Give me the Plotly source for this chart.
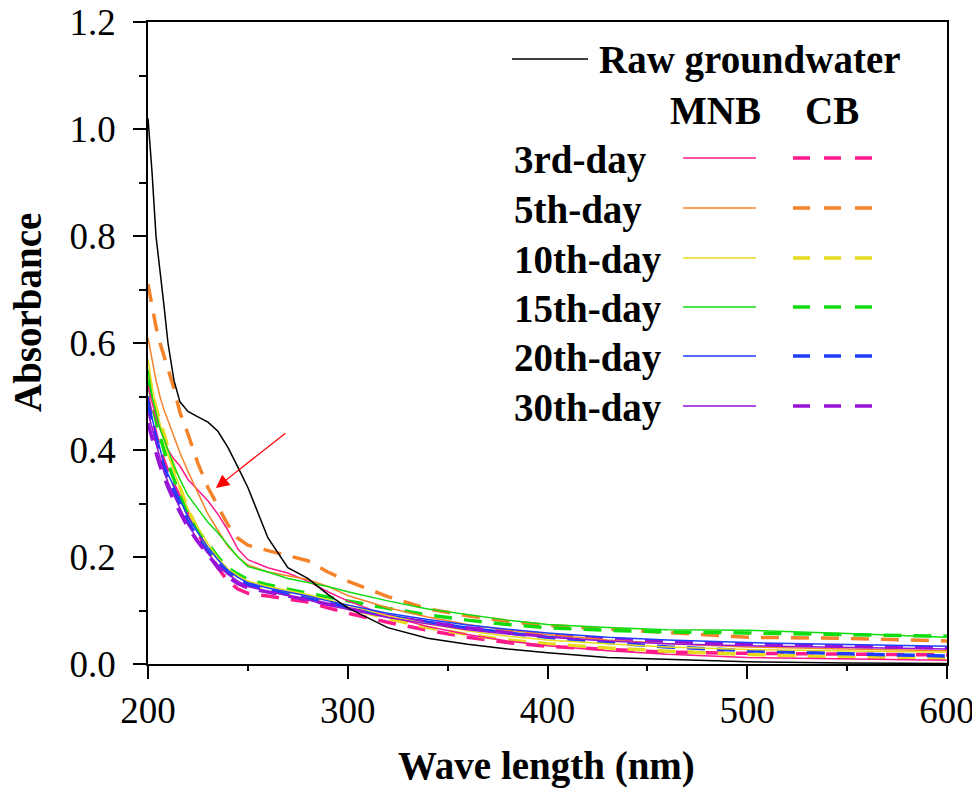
import plotly.graph_objects as go

# ---------------- data ----------------
wavelength = [200, 202, 204, 206, 208, 210, 213, 216, 220, 225, 230, 235, 240, 245, 250,
              260, 270, 280, 290, 300, 320, 340, 360, 380, 400, 430, 460, 500, 550, 600]

raw_groundwater = [1.02, 0.92, 0.80, 0.74, 0.67, 0.60, 0.53, 0.49, 0.472, 0.462, 0.452, 0.435, 0.405, 0.368, 0.33,
                   0.236, 0.18, 0.16, 0.13, 0.105, 0.068, 0.048, 0.037, 0.028, 0.021, 0.012, 0.008, 0.004, 0.002, 0.001]

mnb_3 = [0.52, 0.49, 0.46, 0.44, 0.42, 0.40, 0.383, 0.37, 0.345, 0.325, 0.305, 0.28, 0.25, 0.215, 0.195,
         0.18, 0.17, 0.155, 0.135, 0.118, 0.09, 0.07, 0.055, 0.043, 0.034, 0.025, 0.018, 0.012, 0.009, 0.007]
mnb_5 = [0.61, 0.57, 0.53, 0.50, 0.475, 0.455, 0.425, 0.395, 0.36, 0.32, 0.28, 0.25, 0.22, 0.20, 0.185,
         0.172, 0.165, 0.158, 0.145, 0.128, 0.105, 0.088, 0.074, 0.063, 0.055, 0.045, 0.038, 0.032, 0.028, 0.025]
mnb_10 = [0.57, 0.52, 0.48, 0.45, 0.42, 0.39, 0.36, 0.33, 0.29, 0.255, 0.225, 0.198, 0.178, 0.165, 0.155,
          0.145, 0.138, 0.13, 0.12, 0.11, 0.09, 0.075, 0.062, 0.052, 0.045, 0.038, 0.032, 0.027, 0.024, 0.022]
mnb_15 = [0.55, 0.50, 0.47, 0.44, 0.42, 0.40, 0.37, 0.345, 0.315, 0.29, 0.265, 0.245, 0.222, 0.20, 0.182,
          0.172, 0.16, 0.152, 0.145, 0.135, 0.118, 0.103, 0.092, 0.082, 0.074, 0.068, 0.064, 0.063, 0.057, 0.050]
mnb_20 = [0.50, 0.46, 0.43, 0.40, 0.375, 0.355, 0.33, 0.305, 0.275, 0.245, 0.218, 0.195, 0.175, 0.162, 0.152,
          0.142, 0.135, 0.127, 0.118, 0.11, 0.095, 0.083, 0.073, 0.065, 0.058, 0.05, 0.045, 0.04, 0.036, 0.033]
mnb_30 = [0.47, 0.44, 0.41, 0.385, 0.36, 0.34, 0.315, 0.29, 0.26, 0.232, 0.207, 0.185, 0.168, 0.155, 0.145,
          0.136, 0.128, 0.12, 0.11, 0.102, 0.087, 0.075, 0.064, 0.056, 0.05, 0.043, 0.038, 0.034, 0.031, 0.028]

cb_3 = [0.50, 0.46, 0.43, 0.40, 0.38, 0.36, 0.335, 0.31, 0.28, 0.245, 0.21, 0.18, 0.155, 0.14, 0.132,
        0.127, 0.122, 0.116, 0.105, 0.095, 0.078, 0.063, 0.05, 0.04, 0.033, 0.027, 0.022, 0.02, 0.018, 0.017]
cb_5 = [0.71, 0.67, 0.63, 0.60, 0.575, 0.55, 0.515, 0.47, 0.43, 0.375, 0.33, 0.295, 0.26, 0.235, 0.222,
        0.212, 0.203, 0.193, 0.172, 0.155, 0.126, 0.103, 0.09, 0.08, 0.072, 0.065, 0.058, 0.05, 0.048, 0.043]
cb_10 = [0.55, 0.51, 0.48, 0.455, 0.43, 0.40, 0.365, 0.33, 0.29, 0.25, 0.215, 0.19, 0.172, 0.16, 0.15,
         0.14, 0.132, 0.125, 0.115, 0.105, 0.085, 0.068, 0.055, 0.045, 0.038, 0.03, 0.024, 0.018, 0.013, 0.010]
cb_15 = [0.53, 0.49, 0.455, 0.425, 0.40, 0.375, 0.345, 0.315, 0.28, 0.25, 0.225, 0.20, 0.18, 0.168, 0.158,
         0.148, 0.14, 0.132, 0.125, 0.118, 0.104, 0.092, 0.082, 0.074, 0.068, 0.063, 0.06, 0.058, 0.055, 0.052]
cb_20 = [0.49, 0.45, 0.42, 0.39, 0.365, 0.345, 0.32, 0.295, 0.265, 0.235, 0.21, 0.188, 0.17, 0.157, 0.148,
         0.138, 0.13, 0.122, 0.113, 0.105, 0.09, 0.078, 0.067, 0.058, 0.05, 0.04, 0.032, 0.025, 0.019, 0.015]
cb_30 = [0.45, 0.42, 0.395, 0.37, 0.35, 0.33, 0.305, 0.283, 0.255, 0.228, 0.203, 0.18, 0.163, 0.15, 0.142,
         0.134, 0.127, 0.12, 0.112, 0.104, 0.09, 0.078, 0.068, 0.06, 0.054, 0.047, 0.042, 0.037, 0.033, 0.03]

day_labels = ["3rd-day", "5th-day", "10th-day", "15th-day", "20th-day", "30th-day"]
day_colors = ["#FF1A8C", "#F5832A", "#E6DC1E", "#10DD10", "#1F3DFF", "#9A12D8"]
mnb_series = [mnb_3, mnb_5, mnb_10, mnb_15, mnb_20, mnb_30]
cb_series = [cb_3, cb_5, cb_10, cb_15, cb_20, cb_30]

x_ticks = [200, 300, 400, 500, 600]
y_ticks = [0.0, 0.2, 0.4, 0.6, 0.8, 1.0, 1.2]
x_title = "Wave length (nm)"
y_title = "Absorbance"

# ---------------- figure ----------------
OFF = 8  # page body margin offset
W, H = 980 - OFF, 793 - OFF
L, R, T, B = 148 - OFF, 33, 22 - OFF, 129
PW, PH = W - L - R, H - T - B
FONT = "Liberation Serif, Times New Roman, serif"


def px(xp):
    # xp given in window pixels
    return (xp - OFF - L) / PW


def py(yp):
    return (H - B - (yp - OFF)) / PH


fig = go.Figure()

for ys, c in zip(cb_series, day_colors):
    fig.add_trace(go.Scatter(x=wavelength, y=ys, mode="lines", showlegend=False,
                             line=dict(color=c, width=3.5, dash="18px,12px")))
for ys, c in zip(mnb_series, day_colors):
    fig.add_trace(go.Scatter(x=wavelength, y=ys, mode="lines", showlegend=False,
                             line=dict(color=c, width=1.5)))
fig.add_trace(go.Scatter(x=wavelength, y=raw_groundwater, mode="lines", showlegend=False,
                         line=dict(color="black", width=1.5)))

annotations = []
shapes = []
tfont = dict(family=FONT, size=39, color="black")

# legend: raw groundwater
shapes.append(dict(type="line", xref="paper", yref="paper", x0=px(512), x1=px(588), y0=py(59), y1=py(59),
                   line=dict(color="black", width=1.5)))
annotations.append(dict(xref="paper", yref="paper", x=px(597), y=py(60), xanchor="left", yanchor="middle",
                        text="<b>Raw groundwater</b>", showarrow=False, font=tfont))
annotations.append(dict(xref="paper", yref="paper", x=px(715), y=py(110), xanchor="center", yanchor="middle",
                        text="<b>MNB</b>", showarrow=False, font=tfont))
annotations.append(dict(xref="paper", yref="paper", x=px(832), y=py(110), xanchor="center", yanchor="middle",
                        text="<b>CB</b>", showarrow=False, font=tfont))

row_y = [158, 208, 258, 307, 356, 406]
for lab, c, ry in zip(day_labels, day_colors, row_y):
    annotations.append(dict(xref="paper", yref="paper", x=px(512), y=py(ry + 2), xanchor="left", yanchor="middle",
                            text="<b>%s</b>" % lab, showarrow=False, font=tfont))
    shapes.append(dict(type="line", xref="paper", yref="paper", x0=px(683), x1=px(756), y0=py(ry), y1=py(ry),
                       line=dict(color=c, width=1.5)))
    shapes.append(dict(type="line", xref="paper", yref="paper", x0=px(793), x1=px(872), y0=py(ry), y1=py(ry),
                       line=dict(color=c, width=3.5, dash="17px,14px")))

# red arrow
annotations.append(dict(x=234, y=0.329, xref="x", yref="y", ax=71, ay=-56, axref="pixel", ayref="pixel",
                        text="", showarrow=True, arrowhead=2, arrowsize=2.2, arrowwidth=1.2, arrowcolor="red"))

# axis titles
annotations.append(dict(xref="paper", yref="paper", x=px(27), y=py(313), xanchor="center", yanchor="middle",
                        text="<b>%s</b>" % y_title, textangle=-90, showarrow=False, font=tfont))
annotations.append(dict(xref="paper", yref="paper", x=px(546), y=py(766), xanchor="center", yanchor="middle",
                        text="<b>%s</b>" % x_title, showarrow=False, font=tfont))

fig.update_layout(
    width=W, height=H,
    margin=dict(l=L, r=R, t=T, b=B, autoexpand=False),
    paper_bgcolor="white", plot_bgcolor="white",
    annotations=annotations, shapes=shapes,
    showlegend=False,
)

fig.update_xaxes(range=[200, 600], tickvals=x_ticks, ticktext=[str(v) for v in x_ticks],
                 automargin=False, ticklabeloverflow="allow",
                 ticks="outside", ticklen=13, tickwidth=1.5, tickcolor="black",
                 minor=dict(ticks="outside", ticklen=5, dtick=50, tick0=200, tickcolor="black", tickwidth=1.5),
                 showline=True, linecolor="black", linewidth=1.5, mirror=True,
                 showgrid=False, zeroline=False,
                 tickfont=dict(family=FONT, size=37, color="black"))
fig.update_yaxes(range=[0, 1.2], tickvals=y_ticks, ticktext=["%.1f" % v for v in y_ticks],
                 automargin=False, ticklabeloverflow="allow", ticklabelstandoff=10,
                 ticks="outside", ticklen=13, tickwidth=1.5, tickcolor="black",
                 minor=dict(ticks="outside", ticklen=7, dtick=0.1, tick0=0, tickcolor="black", tickwidth=1.5),
                 showline=True, linecolor="black", linewidth=1.5, mirror=True,
                 showgrid=False, zeroline=False,
                 tickfont=dict(family=FONT, size=37, color="black"))

fig.write_html("out.html")
